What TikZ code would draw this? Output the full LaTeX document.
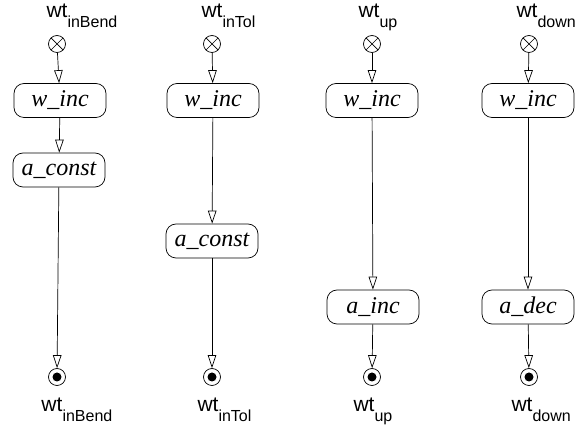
\documentclass[tikz,border=0pt]{standalone}
\usepackage{fontspec}
\setmainfont{Liberation Serif}
\setsansfont{Liberation Sans}
\usetikzlibrary{arrows.meta}
\tikzset{
  state/.style={draw, rounded corners=10pt, minimum width=92pt, minimum height=34pt, inner sep=0pt,
    font=\fontsize{24}{24}\selectfont\itshape},
  initst/.style={draw, circle, minimum size=17pt, inner sep=0pt,
    path picture={\draw (path picture bounding box.north west) -- (path picture bounding box.south east)
      (path picture bounding box.north east) -- (path picture bounding box.south west);}},
  finst/.style={draw, circle, minimum size=17pt, inner sep=0pt,
    path picture={\fill (path picture bounding box.center) circle (4.5pt);}},
  lbl/.style={anchor=base, inner sep=0pt, font=\fontsize{21}{21}\selectfont\sffamily},
  flow/.style={-{Triangle[open, length=13pt, width=8.5pt]}, line width=0.7pt},
}
\newcommand{\wtlab}[1]{wt\rlap{\raisebox{-10pt}{\fontsize{16}{16}\selectfont #1}}}
\begin{document}
\begin{tikzpicture}[x=1pt, y=-1pt, line width=0.7pt]
\useasboundingbox (0,0) rectangle (579,435);
% column 1
\node[lbl] (t1) at (57,18) {\wtlab{inBend}};
\node[initst] (i1) at (57,44) {};
\node[state] (w1) at (60,100.5) {w\_inc};
\node[state] (c1) at (59,170) {a\_const};
\node[finst] (f1) at (57,377) {};
\node[lbl] (b1) at (52,412) {\wtlab{inBend}};
\draw[flow] (i1) -- (w1);
\draw[flow] (w1) -- (c1);
\draw[flow] (c1) -- (f1);
% column 2
\node[lbl] (t2) at (212,18) {\wtlab{inTol}};
\node[initst] (i2) at (212,44) {};
\node[state] (w2) at (213,100.5) {w\_inc};
\node[state] (c2) at (212,241) {a\_const};
\node[finst] (f2) at (212,377) {};
\node[lbl] (b2) at (208,412) {\wtlab{inTol}};
\draw[flow] (i2) -- (w2);
\draw[flow] (w2) -- (c2);
\draw[flow] (c2) -- (f2);
% column 3
\node[lbl] (t3) at (369,18) {\wtlab{up}};
\node[initst] (i3) at (372,44) {};
\node[state] (w3) at (372,100.5) {w\_inc};
\node[state] (c3) at (373,307) {a\_inc};
\node[finst] (f3) at (372,377) {};
\node[lbl] (b3) at (364,412) {\wtlab{up}};
\draw[flow] (i3) -- (w3);
\draw[flow] (w3) -- (c3);
\draw[flow] (c3) -- (f3);
% column 4
\node[lbl] (t4) at (527,18) {\wtlab{down}};
\node[initst] (i4) at (529,44) {};
\node[state] (w4) at (528,100.5) {w\_inc};
\node[state] (c4) at (528,307) {a\_dec};
\node[finst] (f4) at (529,377) {};
\node[lbl] (b4) at (522,412) {\wtlab{down}};
\draw[flow] (i4) -- (w4);
\draw[flow] (w4) -- (c4);
\draw[flow] (c4) -- (f4);
\end{tikzpicture}
\end{document}
